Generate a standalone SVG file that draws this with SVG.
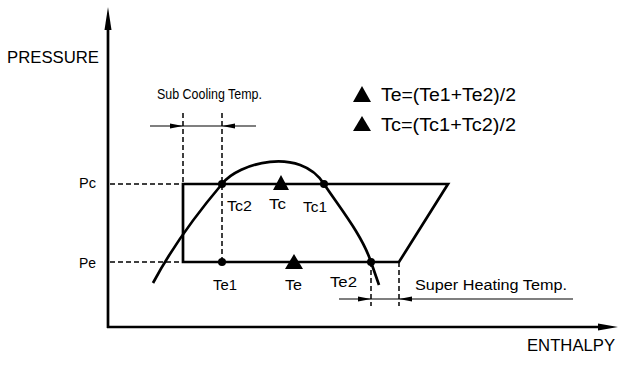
<svg xmlns="http://www.w3.org/2000/svg" width="619" height="366" viewBox="0 0 619 366">
<style>
text{font-family:"Liberation Sans",Arial,sans-serif;fill:#000}
.lbl{font-size:14px}
.sub{font-size:15px}
.ax{font-size:16px}
.leg{font-size:18px}
.thick{fill:none;stroke:#000;stroke-width:2.7;stroke-linejoin:miter}
.dash{fill:none;stroke:#000;stroke-width:1.5;stroke-dasharray:5 3}
.dim{fill:none;stroke:#000;stroke-width:1.2}
.fill{fill:#000;stroke:none}
</style>
<rect width="619" height="366" fill="#fff"/>
<g id="axes">
<line class="thick" x1="108" y1="328" x2="108" y2="26"/>
<polygon class="fill" points="108,7 104.5,30 111.5,30"/>
<line class="thick" x1="107" y1="327" x2="600" y2="327"/>
<polygon class="fill" points="618,327 598,323.5 598,330.5"/>
<text class="ax" x="7" y="63" textLength="92" lengthAdjust="spacingAndGlyphs">PRESSURE</text>
<text class="ax" x="527" y="351" textLength="88" lengthAdjust="spacingAndGlyphs">ENTHALPY</text>
<text class="lbl" x="79" y="188" textLength="17" lengthAdjust="spacingAndGlyphs">Pc</text>
<text class="lbl" x="79" y="268" textLength="17" lengthAdjust="spacingAndGlyphs">Pe</text>
</g>
<g id="connectors">
<line class="dash" x1="110" y1="184" x2="183" y2="184"/>
<line class="dash" x1="110" y1="262" x2="183" y2="262"/>
<line class="dash" x1="183" y1="113" x2="183" y2="184"/>
<line class="dash" x1="222" y1="113" x2="222" y2="262"/>
<line class="dash" x1="371" y1="262" x2="371" y2="306"/>
<line class="dash" x1="399" y1="262" x2="399" y2="306"/>
<line class="dim" x1="150" y1="126" x2="256" y2="126"/>
<polygon class="fill" points="183,126 170,123.5 170,128.5"/>
<polygon class="fill" points="222,126 235,123.5 235,128.5"/>
<line class="dim" x1="339" y1="299" x2="573" y2="299"/>
<polygon class="fill" points="371,299 358,296.5 358,301.5"/>
<polygon class="fill" points="399,299 412,296.5 412,301.5"/>
</g>
<g id="cycle">
<polygon class="thick" points="183,262 183,184 448,184 399,262"/>
</g>
<g id="saturation-curve">
<path class="thick" d="M153,283 Q178,236 222,184 C238,163 300,146 324,184 C340,208 362,235 371,262 L379,285"/>
</g>
<g id="sub-cooling">
<text class="sub" x="157" y="99" textLength="105" lengthAdjust="spacingAndGlyphs">Sub Cooling Temp.</text>
</g>
<g id="super-heating">
<text class="lbl" x="415" y="290" textLength="152" lengthAdjust="spacingAndGlyphs">Super Heating Temp.</text>
</g>
<g id="Tc2"><circle class="fill" cx="222" cy="184" r="4"/><text class="lbl" x="227" y="211" textLength="25" lengthAdjust="spacingAndGlyphs">Tc2</text></g>
<g id="Tc1"><circle class="fill" cx="324" cy="184" r="4"/><text class="lbl" x="303" y="212" textLength="24" lengthAdjust="spacingAndGlyphs">Tc1</text></g>
<g id="Tc"><polygon class="fill" points="281,175 273,190 289,190"/><text class="lbl" x="269" y="209" textLength="17" lengthAdjust="spacingAndGlyphs">Tc</text></g>
<g id="Te1"><circle class="fill" cx="222" cy="262" r="4"/><text class="lbl" x="213" y="290" textLength="24" lengthAdjust="spacingAndGlyphs">Te1</text></g>
<g id="Te2"><circle class="fill" cx="371" cy="262" r="4"/><text class="lbl" x="330" y="287" textLength="27" lengthAdjust="spacingAndGlyphs">Te2</text></g>
<g id="Te"><polygon class="fill" points="294,254 285,269 303,269"/><text class="lbl" x="285" y="290" textLength="17" lengthAdjust="spacingAndGlyphs">Te</text></g>
<g id="legend">
<polygon class="fill" points="362,86 353,102 371,102"/>
<text class="leg" x="381" y="101" textLength="135" lengthAdjust="spacingAndGlyphs">Te=(Te1+Te2)/2</text>
<polygon class="fill" points="362,116 353,131 371,131"/>
<text class="leg" x="381" y="131" textLength="135" lengthAdjust="spacingAndGlyphs">Tc=(Tc1+Tc2)/2</text>
</g>
</svg>
